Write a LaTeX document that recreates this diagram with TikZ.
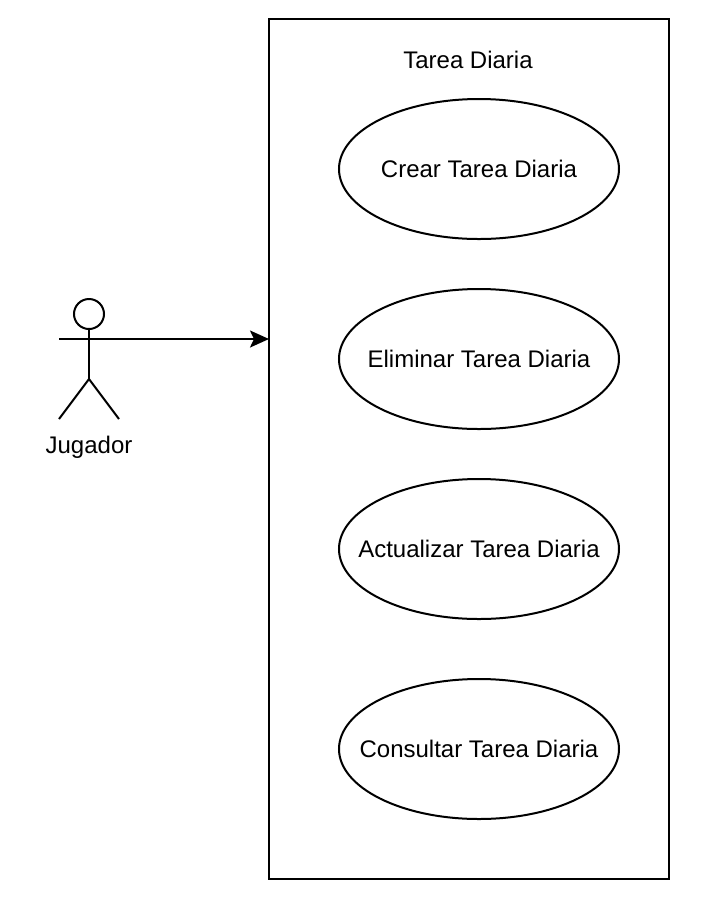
\documentclass[tikz,border=0pt]{standalone}
\usepackage{fontspec}
\setmainfont{Liberation Sans}
\usepackage{xcolor}
\usetikzlibrary{arrows.meta,positioning,shapes.geometric}

\begin{document}
\begin{tikzpicture}[x=.5pt,y=-.5pt,>={Stealth[length=9.5pt,width=8.5pt,inset=2pt]},
  usecase/.style={draw,line width=1pt,ellipse,fill=white,inner ysep=0pt,inner xsep=-20pt,outer sep=0pt,minimum width=140pt,minimum height=70pt,font=\fontsize{12}{14}\selectfont},
  label/.style={inner sep=0pt,font=\fontsize{12}{14}\selectfont},
  stick/.style={line width=1pt}]
  \useasboundingbox (0,0) rectangle (702,902);
  \node[draw,line width=1pt,minimum width=200pt,minimum height=430pt,inner sep=0pt,outer sep=0pt] (system) at (469,449) {};
  \node[label] (title) at (468,60) {Tarea Diaria};
  \node[usecase] (crear) at (479,169) {Crear Tarea Diaria};
  \node[usecase,below=25pt of crear] (eliminar) {Eliminar Tarea Diaria};
  \node[usecase,below=25pt of eliminar] (actualizar) {Actualizar Tarea Diaria};
  \node[usecase,below=30pt of actualizar] (consultar) {Consultar Tarea Diaria};
  % actor
  \node[draw,circle,line width=1pt,minimum size=15pt,inner sep=0pt,outer sep=0pt] (head) at (89,314) {};
  \coordinate (hip) at (89,379);
  \coordinate (lefthand) at (59,339);
  \coordinate (righthand) at (119,339);
  \coordinate (leftfoot) at (59,419);
  \coordinate (rightfoot) at (119,419);
  \coordinate (chest) at (89,339);
  \coordinate (entry) at (system.west |- chest);
  \draw[stick] (head)--(hip);
  \draw[stick] (lefthand)--(righthand);
  \draw[stick] (leftfoot)--(hip)--(rightfoot);
  \node[label] (jugador) at (89,447) {Jugador};
  \draw[->,line width=1pt] (chest)--(entry);
\end{tikzpicture}
\end{document}
